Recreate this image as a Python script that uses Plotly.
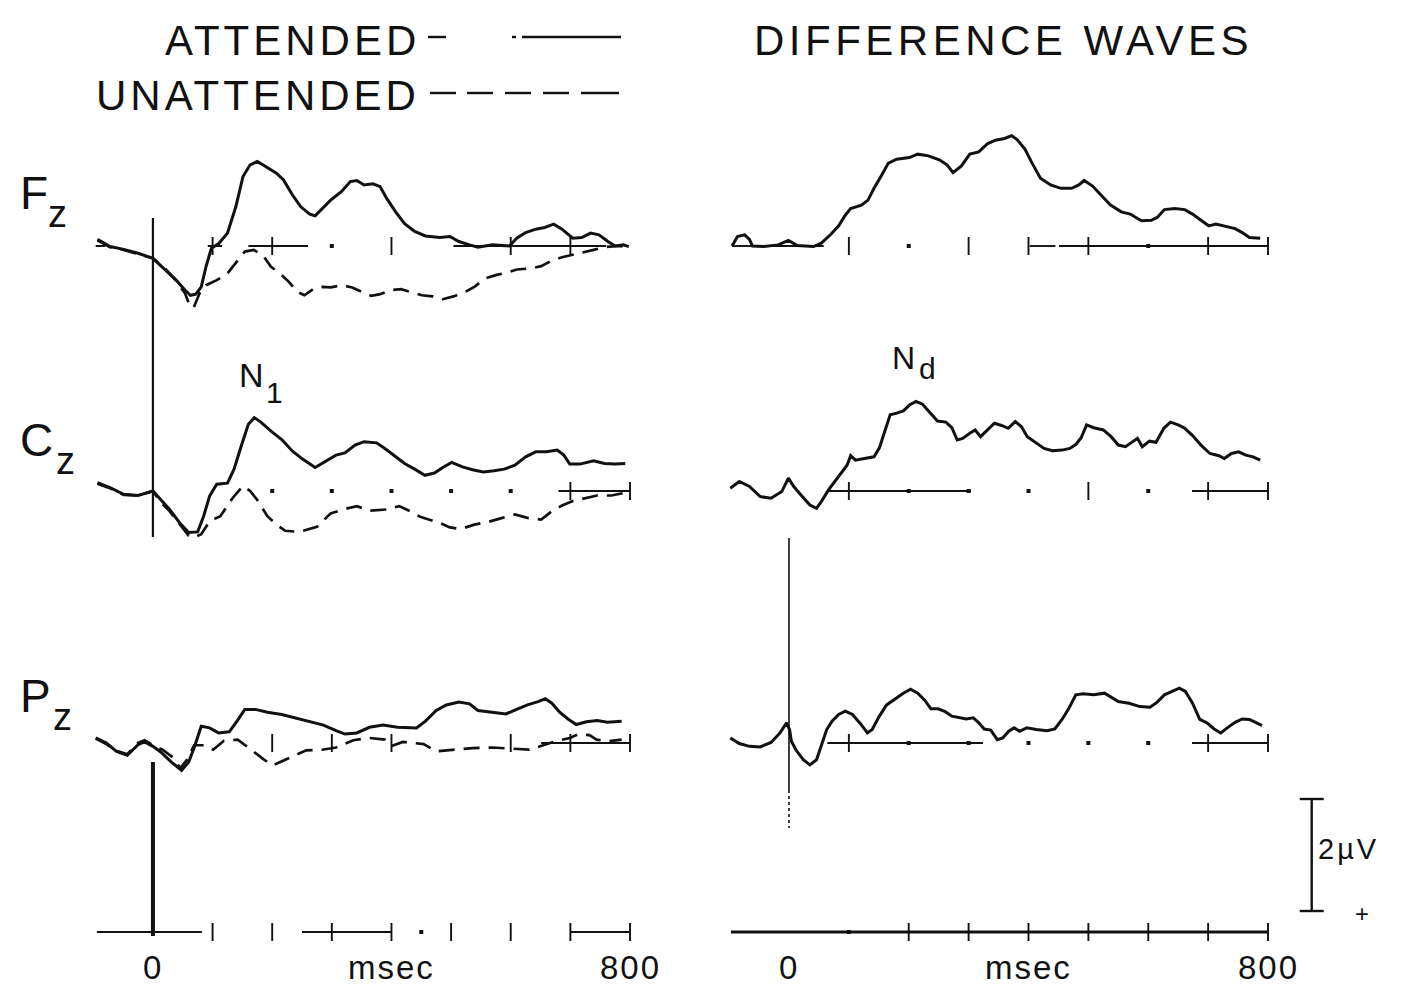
import plotly.graph_objects as go

# ---------------------------------------------------------------------------
# ERP waveforms (µV, negative plotted upward), time in ms after stimulus onset
# ---------------------------------------------------------------------------
fz_att_t = [-93, -72, -49, -25, 0, 22, 39, 54, 63, 72, 81, 89, 98, 110, 125, 139, 151, 163, 175, 189,
            207, 219, 234, 248, 263, 272, 284, 298, 316, 331, 342, 354, 369, 381, 392, 407, 422, 439, 457, 481,
            498, 513, 531, 545, 569, 598, 610, 625, 642, 657, 672, 686, 704, 719, 734, 748, 763, 775, 789, 798]
fz_att_v = [-0.12, 0.01, 0.06, 0.13, 0.22, 0.43, 0.61, 0.79, 0.88, 0.86, 0.73, 0.37, 0.04, -0.04, -0.23,
            -0.70, -1.24, -1.45, -1.51, -1.42, -1.30, -1.18, -0.91, -0.70, -0.57, -0.54, -0.67, -0.82, -0.97,
            -1.15, -1.17, -1.09, -1.11, -1.06, -0.85, -0.61, -0.40, -0.26, -0.18, -0.15, -0.17, -0.08, -0.02,
            0.02, -0.02, 0.00, -0.14, -0.24, -0.30, -0.33, -0.39, -0.30, -0.14, -0.15, -0.23, -0.20, -0.08,
            0.00, -0.02, 0.01]

fz_una_t = [-93, -72, -49, -25, 0, 22, 39, 54, 60, 68, 78, 89, 107, 125, 139, 154, 169, 184, 198, 213,
            228, 242, 254, 269, 284, 298, 316, 334, 351, 366, 381, 398, 416, 434, 451, 469, 486, 504, 522, 539,
            557, 575, 592, 610, 634, 651, 669, 686, 704, 722, 739, 757, 781, 798]
fz_una_v = [-0.10, 0.02, 0.07, 0.14, 0.22, 0.42, 0.62, 0.85, 1.02, 1.11, 0.85, 0.70, 0.61, 0.49, 0.31,
            0.10, 0.07, 0.16, 0.37, 0.49, 0.64, 0.82, 0.88, 0.77, 0.73, 0.74, 0.70, 0.74, 0.82, 0.89, 0.86,
            0.79, 0.77, 0.82, 0.88, 0.90, 0.95, 0.90, 0.83, 0.73, 0.58, 0.52, 0.48, 0.42, 0.40, 0.36, 0.26,
            0.20, 0.16, 0.12, 0.07, 0.02, 0.00, 0.01]

cz_att_t = [-93, -72, -49, -25, 0, 13, 28, 45, 60, 75, 85, 95, 107, 125, 136, 148, 160, 170, 181, 198,
            216, 234, 251, 272, 289, 307, 322, 339, 354, 375, 389, 404, 422, 439, 456, 472, 486, 501, 519, 536,
            554, 572, 589, 607, 625, 642, 660, 678, 689, 699, 716, 739, 757, 775, 792]
cz_att_v = [-0.15, -0.06, 0.06, 0.08, 0.00, 0.15, 0.33, 0.57, 0.74, 0.73, 0.45, 0.09, -0.12, -0.14, -0.39,
            -0.80, -1.19, -1.31, -1.23, -1.07, -0.92, -0.71, -0.57, -0.42, -0.52, -0.64, -0.68, -0.82, -0.88,
            -0.86, -0.76, -0.63, -0.49, -0.39, -0.28, -0.32, -0.42, -0.51, -0.43, -0.38, -0.34, -0.36, -0.39,
            -0.46, -0.61, -0.70, -0.70, -0.73, -0.64, -0.48, -0.48, -0.54, -0.49, -0.48, -0.49]

cz_una_t = [-93, -72, -49, -25, 0, 13, 28, 45, 60, 69, 81, 95, 113, 134, 151, 163, 175, 192, 207, 222,
            245, 275, 298, 322, 342, 363, 392, 413, 431, 448, 481, 498, 516, 539, 563, 586, 607, 628, 651, 669,
            686, 704, 728, 745, 769, 792]
cz_una_v = [-0.13, -0.05, 0.07, 0.08, 0.00, 0.20, 0.36, 0.60, 0.80, 0.83, 0.77, 0.54, 0.45, 0.12, -0.09,
            0.00, 0.16, 0.45, 0.60, 0.71, 0.73, 0.64, 0.40, 0.32, 0.27, 0.35, 0.33, 0.27, 0.36, 0.46, 0.57,
            0.65, 0.68, 0.60, 0.55, 0.48, 0.42, 0.48, 0.51, 0.36, 0.26, 0.18, 0.12, 0.08, 0.08, 0.03]

pz_att_t = [-96, -78, -61, -43, -25, -14, 0, 13, 31, 48, 60, 69, 81, 95, 110, 128, 141, 154, 172, 192,
            216, 239, 263, 286, 307, 322, 342, 363, 386, 410, 442, 457, 475, 492, 513, 531, 545, 569, 592, 610,
            628, 646, 658, 669, 682, 697, 710, 727, 745, 762, 786]
pz_att_v = [-0.09, 0.00, 0.15, 0.22, 0.03, -0.02, 0.06, 0.16, 0.34, 0.49, 0.34, 0.09, -0.30, -0.27, -0.18,
            -0.20, -0.39, -0.60, -0.60, -0.55, -0.51, -0.45, -0.39, -0.32, -0.22, -0.16, -0.18, -0.28, -0.32,
            -0.28, -0.27, -0.39, -0.58, -0.68, -0.73, -0.70, -0.58, -0.55, -0.52, -0.60, -0.68, -0.74, -0.79,
            -0.71, -0.55, -0.42, -0.33, -0.38, -0.40, -0.37, -0.39]

pz_una_t = [-96, -78, -61, -43, -25, -14, 0, 16, 34, 46, 57, 69, 86, 101, 119, 142, 160, 184, 201, 231,
            257, 284, 307, 336, 363, 389, 399, 419, 454, 475, 504, 536, 569, 598, 631, 652, 675, 699, 714, 732,
            744, 763, 786]
pz_una_v = [-0.08, 0.02, 0.14, 0.20, 0.00, -0.05, 0.04, 0.12, 0.26, 0.45, 0.30, 0.04, 0.04, 0.12, -0.04,
            -0.06, 0.08, 0.28, 0.40, 0.26, 0.13, 0.12, 0.08, -0.05, -0.09, -0.06, 0.06, -0.02, 0.02, 0.15,
            0.12, 0.09, 0.08, 0.10, 0.12, 0.05, -0.03, -0.09, -0.16, -0.14, -0.06, -0.03, -0.06]

# attended minus unattended difference waves
fz_dif_t = [-95, -86, -74, -66, -61, -42, -18, -1, 14, 41, 54, 70, 83, 94, 103, 121, 132, 142, 154, 166,
            180, 201, 215, 233, 251, 264, 274, 288, 302, 317, 332, 345, 360, 372, 381, 394, 406, 420, 437, 454,
            472, 484, 493, 507, 521, 537, 555, 570, 582, 589, 605, 615, 627, 644, 661, 674, 688, 701, 713, 727,
            745, 757, 769, 787]
fz_dif_v = [0.00, -0.17, -0.20, -0.12, 0.00, 0.01, -0.02, -0.10, -0.01, 0.01, -0.05, -0.21, -0.36, -0.55,
            -0.67, -0.73, -0.82, -1.03, -1.25, -1.48, -1.55, -1.58, -1.64, -1.61, -1.54, -1.45, -1.31, -1.43,
            -1.64, -1.68, -1.83, -1.89, -1.92, -1.97, -1.90, -1.73, -1.48, -1.21, -1.09, -1.03, -1.03, -1.09,
            -1.17, -1.07, -0.91, -0.73, -0.61, -0.57, -0.49, -0.45, -0.46, -0.51, -0.65, -0.67, -0.65, -0.57,
            -0.46, -0.36, -0.39, -0.35, -0.31, -0.24, -0.15, -0.14]

cz_dif_t = [-98, -83, -66, -48, -30, -12, -1, 8, 20, 35, 46, 54, 66, 81, 97, 103, 111, 126, 142, 151,
            160, 169, 180, 191, 202, 212, 223, 235, 248, 262, 272, 281, 290, 302, 311, 320, 329, 343, 355, 366,
            378, 388, 398, 413, 426, 440, 456, 469, 479, 488, 497, 509, 525, 538, 550, 562, 573, 582, 590, 602,
            613, 626, 637, 650, 661, 674, 688, 703, 718, 727, 739, 751, 763, 775, 787]
cz_dif_v = [-0.05, -0.17, -0.08, 0.10, 0.13, 0.01, -0.23, -0.08, 0.07, 0.25, 0.31, 0.19, -0.02, -0.23,
            -0.46, -0.63, -0.55, -0.58, -0.61, -0.77, -1.06, -1.36, -1.39, -1.43, -1.54, -1.60, -1.55, -1.40,
            -1.25, -1.23, -1.13, -0.91, -0.94, -1.03, -1.09, -0.97, -1.06, -1.21, -1.17, -1.12, -1.24, -1.15,
            -0.97, -0.85, -0.76, -0.72, -0.73, -0.76, -0.83, -0.95, -1.18, -1.13, -1.09, -0.97, -0.82, -0.79,
            -0.88, -0.94, -0.79, -0.89, -0.87, -1.12, -1.23, -1.18, -1.12, -0.99, -0.82, -0.67, -0.63, -0.58,
            -0.67, -0.70, -0.64, -0.61, -0.55]

pz_dif_t = [-98, -83, -66, -48, -30, -15, -4, 1, 4, 12, 24, 35, 46, 53, 63, 72, 83, 94, 106, 119,
            131, 139, 151, 163, 178, 191, 203, 215, 227, 237, 249, 261, 272, 284, 296, 308, 317, 326, 337, 348,
            357, 367, 376, 385, 397, 413, 431, 444, 456, 467, 479, 491, 509, 527, 538, 550, 568, 586, 603, 615,
            627, 639, 652, 662, 674, 686, 698, 710, 721, 732, 745, 757, 769, 781, 790]
pz_dif_v = [-0.09, 0.01, 0.06, 0.07, -0.01, -0.18, -0.36, -0.24, -0.03, 0.13, 0.30, 0.39, 0.30, 0.06,
            -0.24, -0.39, -0.51, -0.57, -0.51, -0.35, -0.18, -0.24, -0.48, -0.68, -0.80, -0.89, -0.96, -0.89,
            -0.76, -0.61, -0.61, -0.56, -0.48, -0.45, -0.43, -0.45, -0.36, -0.25, -0.23, -0.06, -0.09, -0.21,
            -0.27, -0.21, -0.27, -0.24, -0.22, -0.25, -0.42, -0.61, -0.86, -0.88, -0.86, -0.89, -0.82, -0.74,
            -0.71, -0.65, -0.64, -0.73, -0.86, -0.92, -0.98, -0.92, -0.71, -0.42, -0.36, -0.25, -0.18, -0.27,
            -0.37, -0.43, -0.42, -0.36, -0.31]

channels = ["F", "C", "P"]
channel_sub = "z"

# zero lines: stretches still drawn (ms), tick marks and dot marks, per (row, column)
base_segments = {
    (0, 0): [(-96, -80), (92, 116), (160, 260), (504, 760)],
    (1, 0): [(680, 800)],
    (2, 0): [(651, 800)],
    (0, 1): [(-95, -48), (-36, 58), (402, 445), (451, 800)],
    (1, 1): [(64, 304), (673, 800)],
    (2, 1): [(64, 324), (673, 800)],
    (3, 0): [(-94, 82), (250, 400), (700, 800)],
    (3, 1): [(-97, 800)],
}
base_ticks = {
    (0, 0): [100, 200, 400, 600, 700],
    (1, 0): [700, 800],
    (2, 0): [200, 300, 400, 600, 700, 800],
    (0, 1): [100, 300, 400, 500, 700, 800],
    (1, 1): [100, 500, 700, 800],
    (2, 1): [100, 700, 800],
    (3, 0): [100, 200, 300, 400, 500, 600, 700, 800],
    (3, 1): [200, 300, 400, 500, 600, 700, 800],
}
base_dots = {
    (0, 0): [300],
    (1, 0): [200, 300, 400, 500, 600],
    (2, 0): [],
    (0, 1): [200, 600],
    (1, 1): [200, 300, 400, 600],
    (2, 1): [200, 300, 400, 500, 600],
    (3, 0): [450],
    (3, 1): [100],
}

time_labels = ["0", "msec", "800"]
time_label_pos = [0, 400, 800]
SCALE_BAR_UV = 2.0

# ---------------------------------------------------------------------------
# geometry
# ---------------------------------------------------------------------------
W, H = 1403, 994
PX_PER_UV = 56.0
INK = "#111111"
FONT = "Liberation Sans"

COL_PX = {0: (93.3, 630.0), 1: (729.1, 1268.0)}   # pixel x of -100 ms and 800 ms
COL_EDGE = {0: 645.0, 1: 1403.0}
ROW_PX = {0: (110, 340, 246), 1: (345, 595, 491), 2: (600, 994, 743), 3: (880, 994, 932)}
LABEL_RISE = {0: 51, 1: 49, 2: 45}     # channel name height above its zero line (px)
SUB_X = {0: 47, 1: 55, 2: 52}          # left edge of the lowered "z" (px)


def axis_id(r, c):
    return r * 2 + c + 1


def xref(k):
    return "x" if k == 1 else f"x{k}"


def yref(k):
    return "y" if k == 1 else f"y{k}"


def px_x(px):
    return px / W


def px_y(px):
    return 1 - px / H


fig = go.Figure()
layout_axes = {}
axis_geom = {}
for r in range(4):
    for c in range(2):
        k = axis_id(r, c)
        x0, x1 = COL_PX[c]
        pxpm = (x1 - x0) / 900.0
        edge = COL_EDGE[c]
        top, bot, base = ROW_PX[r]
        xdom = [px_x(x0), px_x(edge)]
        xrng = [-100, -100 + (edge - x0) / pxpm]
        ydom = [px_y(bot), px_y(top)]
        yrng = [(bot - base) / PX_PER_UV, (top - base) / PX_PER_UV]
        axis_geom[k] = (xdom, xrng, ydom, yrng)
        layout_axes["xaxis" if k == 1 else f"xaxis{k}"] = dict(
            domain=xdom, range=xrng, visible=False, anchor=yref(k), fixedrange=True)
        layout_axes["yaxis" if k == 1 else f"yaxis{k}"] = dict(
            domain=ydom, range=yrng, visible=False, anchor=xref(k), fixedrange=True)


def to_paper(k, t, v):
    """Map (ms, µV) on subplot k to paper coordinates."""
    xdom, xrng, ydom, yrng = axis_geom[k]
    px = xdom[0] + (t - xrng[0]) / (xrng[1] - xrng[0]) * (xdom[1] - xdom[0])
    py = ydom[0] + (v - yrng[0]) / (yrng[1] - yrng[0]) * (ydom[1] - ydom[0])
    return px, py


def add(k, x, y, width=2.6, dash=None, mode="lines", marker=None):
    fig.add_trace(go.Scatter(
        x=x, y=y, xaxis=xref(k), yaxis=yref(k), mode=mode,
        line=dict(color=INK, width=width, dash=dash), marker=marker,
        hoverinfo="skip", showlegend=False))


TICK_H = 9 / PX_PER_UV
for (r, c), segs in base_segments.items():
    k = axis_id(r, c)
    xs, ys = [], []
    for a, b in segs:
        xs += [a, b, None]
        ys += [0, 0, None]
    add(k, xs, ys, width=3.0 if (r, c) == (3, 1) else 1.9)
    tx, ty = [], []
    for t in base_ticks[(r, c)]:
        tx += [t, t, None]
        ty += [-TICK_H, TICK_H, None]
    add(k, tx, ty, width=1.9)
    if base_dots[(r, c)]:
        add(k, base_dots[(r, c)], [0] * len(base_dots[(r, c)]), mode="markers",
            marker=dict(symbol="square", size=4, color=INK))

waves = [
    (0, fz_att_t, fz_att_v, fz_una_t, fz_una_v, fz_dif_t, fz_dif_v),
    (1, cz_att_t, cz_att_v, cz_una_t, cz_una_v, cz_dif_t, cz_dif_v),
    (2, pz_att_t, pz_att_v, pz_una_t, pz_una_v, pz_dif_t, pz_dif_v),
]
for r, at, av, ut, uv, dt, dv in waves:
    add(axis_id(r, 0), ut, uv, width=2.7, dash="16px,9px")
    add(axis_id(r, 0), at, av, width=3.0)
    add(axis_id(r, 1), dt, dv, width=3.0)

# 2 µV calibration bar (positive down) beside the difference waves
kb = axis_id(2, 1)
bar_t = 873
bar_top = 1.0
add(kb, [bar_t, bar_t, None, bar_t - 20, bar_t + 20, None, bar_t - 20, bar_t + 20],
    [bar_top, bar_top + SCALE_BAR_UV, None, bar_top, bar_top, None,
     bar_top + SCALE_BAR_UV, bar_top + SCALE_BAR_UV], width=2.4)

annotations = []


def note(text, x, y, size=30, xanchor="center", yanchor="middle", spacing=0):
    if spacing:
        text = f'<span style="letter-spacing:{spacing}px">{text}</span>'
    annotations.append(dict(text=text, x=x, y=y, xref="paper", yref="paper", showarrow=False,
                            xanchor=xanchor, yanchor=yanchor, borderpad=0,
                            font=dict(family=FONT, size=size, color=INK)))


def note_on(k, text, t, v, **kw):
    px, py = to_paper(k, t, v)
    note(text, px, py, **kw)


note_on(kb, f"{SCALE_BAR_UV:g}µV", bar_t + 8, bar_top + SCALE_BAR_UV / 2 - 0.1,
        size=29, xanchor="left", spacing=3)
note_on(kb, "+", 957, bar_top + SCALE_BAR_UV + 0.05, size=24)

# headings and legend
note("ATTENDED", px_x(421), px_y(40), size=42, xanchor="right", spacing=4)
note("UNATTENDED", px_x(421), px_y(95), size=42, xanchor="right", spacing=4)
note("DIFFERENCE WAVES", px_x(1003), px_y(40), size=42, spacing=4.5)

# channel names with a lowered "z"
for r, name in enumerate(channels):
    base = ROW_PX[r][2]
    note(name, px_x(19), px_y(base - LABEL_RISE[r] - 2), size=46, xanchor="left")
    note(channel_sub, px_x(SUB_X[r]), px_y(base - LABEL_RISE[r] + 19), size=38, xanchor="left")

# component labels: N1 over the attended Cz peak, Nd over the difference wave
k_cz_l, k_cz_r = axis_id(1, 0), axis_id(1, 1)
note_on(k_cz_l, "N", 166, -2.07, size=34)
note_on(k_cz_l, "1", 204, -1.76, size=30)
note_on(k_cz_r, "N", 192, -2.37, size=32)
note_on(k_cz_r, "d", 232, -2.18, size=30)

# time-axis labels
for c in range(2):
    k = axis_id(3, c)
    for lab, t in zip(time_labels, time_label_pos):
        note_on(k, lab, t, 35 / PX_PER_UV, size=33, spacing=2)

shapes = []


def vline(xr, x, y0px, y1px, width, dash="solid"):
    shapes.append(dict(type="line", xref=xr, yref="paper", x0=x, x1=x,
                       y0=px_y(y0px), y1=px_y(y1px), line=dict(color=INK, width=width, dash=dash)))


def hline(x0px, x1px, ypx, width=2.4):
    shapes.append(dict(type="line", xref="paper", yref="paper", x0=px_x(x0px), x1=px_x(x1px),
                       y0=px_y(ypx), y1=px_y(ypx), line=dict(color=INK, width=width)))


# stimulus onset markers
vline("x", 0, 218, 537, 2.2)
vline("x", 0, 762, 936, 4.0)
vline("x2", 0, 538, 790, 1.6)
vline("x2", 0, 790, 828, 1.6, dash="dot")

# legend line samples
hline(428, 446, 37)
hline(512, 516, 37)
hline(522, 621, 37)
for a, b in [(430, 456), (467, 493), (505, 531), (543, 569), (581, 619)]:
    hline(a, b, 93)

fig.update_layout(
    width=W, height=H, margin=dict(l=0, r=0, t=0, b=0),
    paper_bgcolor="white", plot_bgcolor="rgba(0,0,0,0)",
    showlegend=False, annotations=annotations, shapes=shapes,
    font=dict(family=FONT, color=INK),
    **layout_axes,
)

fig.write_html("out.html")
